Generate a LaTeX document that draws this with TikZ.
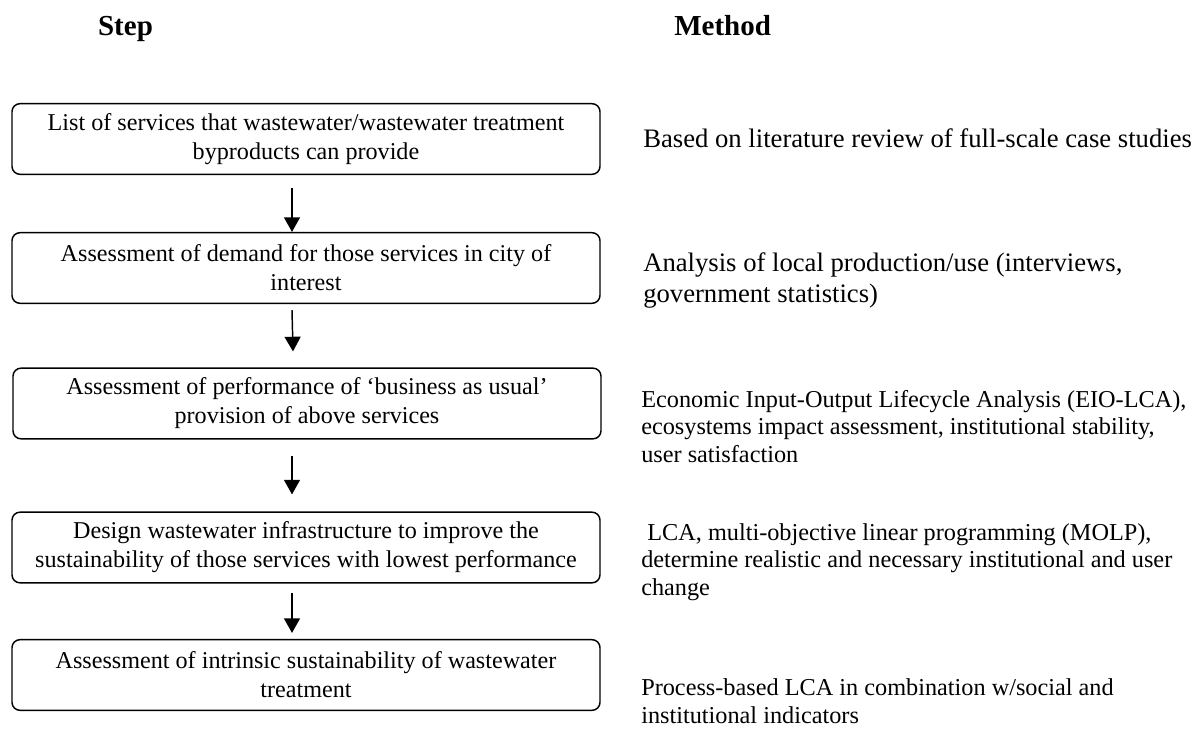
\documentclass[tikz,border=0pt]{standalone}
\usepackage{fontspec}
\setmainfont{Liberation Serif}
\usetikzlibrary{arrows.meta}
\begin{document}
\begin{tikzpicture}[x=0.75pt,y=-0.75pt,
  stepbox/.style={draw,line width=1.1pt,rounded corners=6pt,minimum width=441pt,minimum height=53pt,
    align=center,inner sep=0pt,font=\fontsize{18.1pt}{21.75pt}\selectfont},
  arr/.style={line width=1.1pt,-{Triangle[width=12pt,length=11pt]}},
  head/.style={anchor=base,inner sep=0pt,font=\bfseries\fontsize{21.75pt}{24pt}\selectfont},
  methA/.style={anchor=base west,inner sep=0pt,align=left,font=\fontsize{20pt}{23pt}\selectfont},
  methB/.style={anchor=base west,inner sep=0pt,align=left,font=\fontsize{18.2pt}{20.6pt}\selectfont}]
\useasboundingbox (0,0) rectangle (1199,729);
\node[head] (hs) at (125.5,35) {Step};
\node[head,anchor=base west] (hm) at (674,35) {Method};
\node[stepbox] (b1) at (306,139) {List of services that wastewater/wastewater treatment\\byproducts can provide};
\node[stepbox] (b2) at (306,268) {Assessment of demand for those services in city of\\interest};
\node[stepbox] (b3) at (307,403.5) {Assessment of performance of `business as usual'\\provision of above services};
\node[stepbox] (b4) at (306,547.5) {Design wastewater infrastructure to improve the\\sustainability of those services with lowest performance};
\node[stepbox] (b5) at (306,675) {Assessment of intrinsic sustainability of wastewater\\treatment};
\draw[arr] ([shift={(-14,13)}]b1.south) -- ([shift={(-14,0)}]b2.north);
\draw[arr] ([shift={(-14,6)}]b2.south) -- ([shift={(-14,-16)}]b3.north);
\draw[arr] ([shift={(-15,16)}]b3.south) -- ([shift={(-14,-17)}]b4.north);
\draw[arr] ([shift={(-14,9)}]b4.south) -- ([shift={(-14,-6)}]b5.north);
\node[methA] (m1) at (643,147) {Based on literature review of full-scale case studies};
\node[methA] (m2) at (643,302) {Analysis of local production/use (interviews,\\government statistics)};
\node[methB] (m3) at (641,462) {Economic Input-Output Lifecycle Analysis (EIO-LCA),\\ecosystems impact assessment, institutional stability,\\user satisfaction};
\node[methB] (m4) at (641,595) {\ LCA, multi-objective linear programming (MOLP),\\determine realistic and necessary institutional and user\\change};
\node[methB] (m5) at (641,723) {Process-based LCA in combination w/social and\\institutional indicators};
\end{tikzpicture}
\end{document}
